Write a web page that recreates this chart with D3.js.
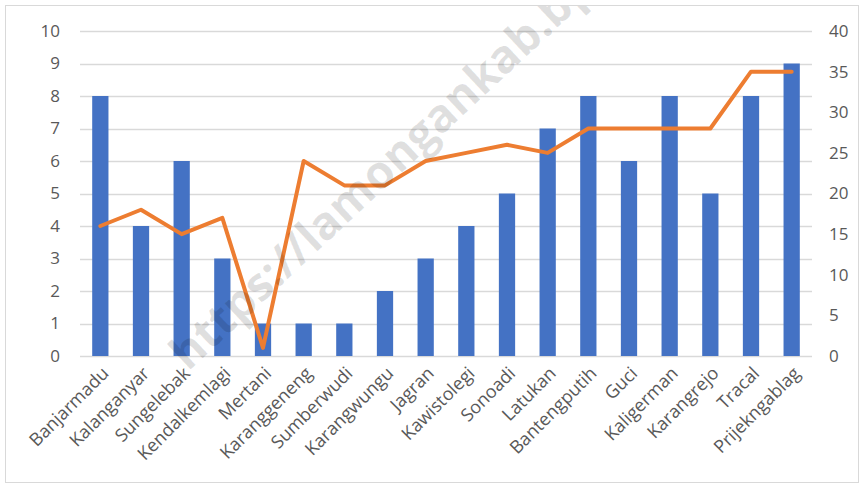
<!DOCTYPE html>
<html><head><meta charset="utf-8">
<script src="https://cdn.jsdelivr.net/npm/d3@7"></script>
<style>body{margin:0;background:#fff}svg{display:block}text{font-family:"Open Sans",sans-serif}</style>
</head><body><svg id="c" width="864" height="488"></svg>
<script>
const categories = ["Banjarmadu","Kalanganyar","Sungelebak","Kendalkemlagi","Mertani","Karanggeneng","Sumberwudi","Karangwungu","Jagran","Kawistolegi","Sonoadi","Latukan","Bantengputih","Guci","Kaligerman","Karangrejo","Tracal","Prijekngablag"];
const barValues = [8,4,6,3,1,1,1,2,3,4,5,7,8,6,8,5,8,9];
const lineValues = [16,18,15,17,1,24,21,21,24,25,26,25,28,28,28,28,35,35];
const leftTicks = [0,1,2,3,4,5,6,7,8,9,10];
const rightTicks = [0,5,10,15,20,25,30,35,40];

const svg = d3.select("#c");
svg.append("defs").append("clipPath").attr("id","cp").append("rect")
  .attr("x",6).attr("y",6).attr("width",852).attr("height",476);
svg.append("rect").attr("x",5.5).attr("y",5.5).attr("width",853).attr("height",477)
  .attr("fill","#fff").attr("stroke","#d9d9d9");
const L=80,R=812,T=31,B=356;
const x = d3.scaleBand().domain(categories).range([L,R]).paddingInner(0.6).paddingOuter(0.3);
const yL = d3.scaleLinear().domain([0,10]).range([B,T]);
const yR = d3.scaleLinear().domain([0,40]).range([B,T]);

svg.append("g").selectAll("line").data(leftTicks).join("line")
  .attr("x1",L).attr("x2",R).attr("y1",d=>Math.round(yL(d))+0.5).attr("y2",d=>Math.round(yL(d))+0.5)
  .attr("stroke","#d9d9d9").attr("stroke-width",1.3);

const gl = svg.append("g").attr("transform",`translate(${L-20},0)`)
  .call(d3.axisLeft(yL).tickValues(leftTicks).tickSize(0).tickPadding(0));
gl.select(".domain").remove();
gl.selectAll("text").attr("font-size",17).attr("fill","#595959");
const gr = svg.append("g").attr("transform",`translate(${R+17},0)`)
  .call(d3.axisRight(yR).tickValues(rightTicks).tickSize(0).tickPadding(0));
gr.select(".domain").remove();
gr.selectAll("text").attr("font-size",17).attr("fill","#595959");

svg.append("g").selectAll("rect").data(categories).join("rect")
  .attr("x",d=>x(d)).attr("width",x.bandwidth())
  .attr("y",(d,i)=>yL(barValues[i])).attr("height",(d,i)=>B-yL(barValues[i]))
  .attr("fill","#4472C4");

const line = d3.line().x((d,i)=>x(categories[i])+x.bandwidth()/2).y(d=>yR(d));
svg.append("path").datum(lineValues).attr("d",line).attr("fill","none")
  .attr("stroke","#ED7D31").attr("stroke-width",4).attr("stroke-linejoin","round").attr("stroke-linecap","round");

svg.append("g").selectAll("text").data(categories).join("text")
  .attr("transform",d=>`translate(${x(d)+x.bandwidth()/2+5},${B+14}) rotate(-45)`)
  .attr("text-anchor","end").attr("dy","0.35em").attr("font-size",18).attr("fill","#595959").text(d=>d);

svg.append("g").attr("clip-path","url(#cp)").append("text").attr("transform","translate(188,372) rotate(-43)")
  .attr("font-family","Liberation Sans, Arial, sans-serif").attr("font-weight","bold").attr("font-size",46)
  .attr("fill","#000").attr("fill-opacity",0.12).text("https://lamongankab.bps.go.id");
</script></body></html>
